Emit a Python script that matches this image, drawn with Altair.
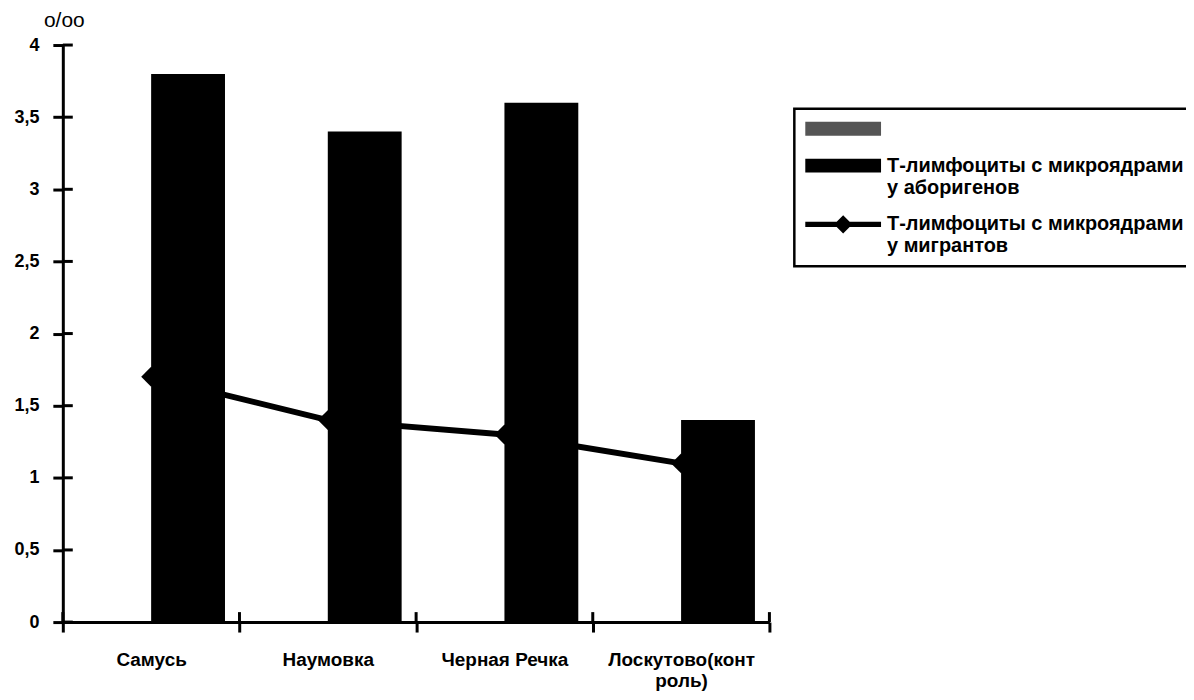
import altair as alt
import pandas as pd

# ---- data ----
categories = ["Самусь", "Наумовка", "Черная Речка", "Лоскутово(контроль)"]
aborigen_values = [3.8, 3.4, 3.6, 1.4]
migrant_values = [1.7, 1.4, 1.3, 1.1]

series_keys = ["pattern", "aborigen", "migrant"]
series_label_lines = [
    [""],
    ["Т-лимфоциты с микроядрами", "у аборигенов"],
    ["Т-лимфоциты с микроядрами", "у мигрантов"],
]
x_label_lines = [["Самусь"], ["Наумовка"], ["Черная Речка"], ["Лоскутово(конт", "роль)"]]
y_ticks = [0, 0.5, 1, 1.5, 2, 2.5, 3, 3.5, 4]
y_title = "o/oo"

FONT = "Liberation Sans"

bars_df = pd.DataFrame({
    "category": categories,
    "value": aborigen_values,
    "series": ["aborigen"] * len(categories),
})
line_df = pd.DataFrame({"category": categories, "value": migrant_values})
legend_df = pd.DataFrame({"series": series_keys})
ytick_df = pd.DataFrame({"value": y_ticks})
xtick_df = pd.DataFrame({"category": categories})
xtick_last_df = pd.DataFrame({"category": categories[-1:]})


def arr(lines):
    return "[" + ", ".join("'" + s + "'" for s in lines) + "]"


x_label_expr = "".join(
    f"datum.value == '{c}' ? {arr(l)} : " for c, l in zip(categories, x_label_lines)
) + "datum.value"
legend_label_expr = "".join(
    f"datum.value == '{k}' ? {arr(l)} : " for k, l in zip(series_keys, series_label_lines)
) + "datum.value"

x_scale = alt.Scale(domain=categories, paddingInner=0, paddingOuter=0)
y_scale = alt.Scale(domain=[0, 4], nice=False)

main_x_axis = alt.Axis(
    orient="bottom", title=None, tickBand="extent", tickSize=10, tickWidth=3,
    tickColor="black", domainColor="black", domainWidth=3,
    labelFont=FONT, labelFontSize=19, labelFontWeight="bold", labelColor="black",
    labelPadding=19, labelAngle=0, labelExpr=x_label_expr, labelLineHeight=21,
    labelBaseline="top",
)
main_y_axis = alt.Axis(
    orient="left", values=y_ticks, tickSize=10, tickWidth=3, tickColor="black",
    domainColor="black", domainWidth=3, grid=False,
    labelFont=FONT, labelFontSize=18, labelFontWeight="bold", labelColor="black",
    labelPadding=14, labelExpr="replace(toString(datum.value), '.', ',')",
    title=y_title, titleAngle=0, titleFont=FONT, titleFontSize=21,
    titleFontWeight="normal", titleColor="black", titleX=1, titleY=-25,
    titleAlign="center", titleBaseline="middle",
)

X = lambda **kw: alt.X("category:N", scale=x_scale, sort=categories, **kw)
Y = lambda: alt.Y("value:Q", scale=y_scale)

bars = alt.Chart(bars_df).mark_bar(color="black").encode(
    x=alt.X("category:N", scale=x_scale, sort=categories, axis=main_x_axis),
    xOffset=alt.XOffset("series:N", scale=alt.Scale(
        domain=["pattern", "aborigen"], paddingInner=0, paddingOuter=0.196)),
    y=alt.Y("value:Q", scale=y_scale, axis=main_y_axis),
)

line = alt.Chart(line_df).mark_line(color="black", strokeWidth=6).encode(
    x=X(), y=Y(),
)

points = alt.Chart(line_df).mark_point(
    shape="diamond", filled=True, color="black", size=400, opacity=1
).encode(x=X(), y=Y())

# inner halves of the crossing (Excel-style) tick marks
y_inner_ticks = alt.Chart(ytick_df).mark_rule(color="black", strokeWidth=3).encode(
    y=Y(), x=alt.value(0), x2=alt.value(10),
)
x_inner_ticks = alt.Chart(xtick_df).mark_rule(color="black", strokeWidth=3).encode(
    x=X(bandPosition=0), y=alt.value(569), y2=alt.value(579),
)
x_inner_tick_end = alt.Chart(xtick_last_df).mark_rule(color="black", strokeWidth=3).encode(
    x=X(bandPosition=1), y=alt.value(569), y2=alt.value(579),
)

rect_path = "M-0.9,-0.7H6.7V0.7H-0.9Z"
line_path = ("M-0.9,-0.27H2.25L2.9,-0.92L3.55,-0.27H6.7V0.27H3.55"
             "L2.9,0.92L2.25,0.27H-0.9Z")

legend_layer = alt.Chart(legend_df).transform_filter("false").mark_point(
    filled=True, opacity=1
).encode(
    color=alt.Color(
        "series:N",
        scale=alt.Scale(domain=series_keys, range=["#555555", "black", "black"]),
        legend=alt.Legend(
            title=None, orient="none", legendX=734, legendY=64,
            strokeColor="black", fillColor="white", padding=10,
            symbolSize=400, symbolOpacity=1, symbolStrokeWidth=0,
            labelOffset=63, labelLimit=0, labelFont=FONT, labelFontSize=20,
            labelFontWeight="bold", labelColor="black", labelBaseline="middle",
            labelExpr=legend_label_expr, rowPadding=17,
        ),
    ),
    shape=alt.Shape(
        "series:N",
        scale=alt.Scale(domain=series_keys, range=[rect_path, rect_path, line_path]),
    ),
)

chart = alt.layer(
    bars, line, points, y_inner_ticks, x_inner_ticks, x_inner_tick_end, legend_layer
).properties(
    width=709, height=579,
    autosize=alt.AutoSizeParams(type="none"),
    padding={"left": 55, "top": 36, "right": 418, "bottom": 69},
).configure_view(stroke=None).configure_legend(strokeWidth=2.5)

chart.save("out.html", embed_options={"renderer": "svg", "actions": False})
